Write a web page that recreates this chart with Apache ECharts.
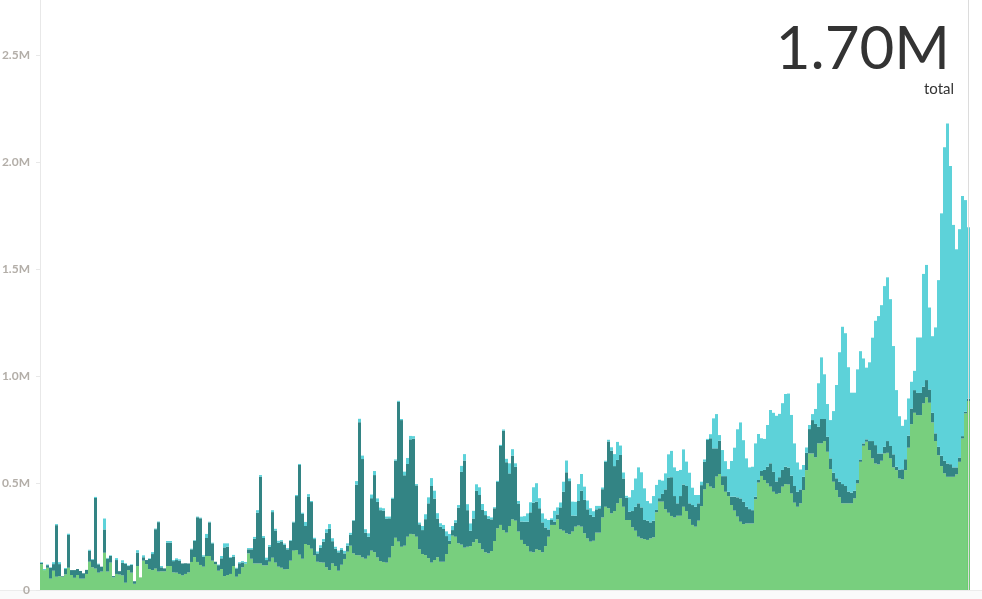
<!DOCTYPE html>
<html><head><meta charset="utf-8">
<script src="https://cdn.jsdelivr.net/npm/echarts@6/dist/echarts.min.js"></script>
<style>html,body{margin:0;padding:0;background:#fff}#c{width:982px;height:599px}</style>
</head><body><div id="c"></div>
<script>
// values in thousands
const green = [
121,93,104,53,90,62,65,62,73,104,70,57,70,53,53,75,132,106,100,81,
86,174,86,128,59,75,72,68,34,93,81,29,112,59,137,121,98,93,100,86,
87,87,112,112,82,81,75,68,75,82,131,154,131,117,109,159,159,137,121,90,
98,65,
70,75,112,62,75,106,121,171,146,124,124,124,115,115,132,151,128,109,104,96,
98,137,184,187,165,146,215,210,193,162,132,129,128,106,93,124,112,90,118,145,
179,207,171,163,162,152,146,160,184,177,152,135,131,128,151,205,244,226,202,207,
249,262,
260,249,190,168,163,149,128,140,153,132,132,168,215,254,249,218,212,198,202,205,
223,237,218,190,176,171,182,229,288,304,280,268,299,330,324,273,234,215,205,179,
176,190,187,176,205,249,304,304,330,283,277,265,260,273,296,301,296,265,241,226,
230,268,
268,339,389,382,358,369,405,428,389,327,327,293,277,249,241,238,234,241,246,363,
413,413,377,361,346,339,347,347,389,369,330,304,296,324,392,470,498,483,475,530,
542,490,459,439,397,371,343,319,308,311,311,311,424,502,533,514,498,483,459,449,
452,483,
495,493,451,408,389,405,467,560,638,638,620,685,685,696,646,565,506,467,433,405,
405,405,405,428,498,599,674,693,654,615,591,587,604,638,641,615,573,560,521,517,
560,665,775,828,817,817,872,900,875,783,696,630,579,545,529,529,529,540,599,708,
825,883
];
const teal = [
6,0,12,50,31,241,56,3,25,153,23,36,28,36,25,19,51,36,330,39,
23,109,61,31,6,65,16,59,89,19,36,12,62,0,16,19,47,75,184,231,
19,14,109,109,53,59,62,56,50,42,59,76,209,218,47,84,157,81,11,26,
50,134,
132,76,44,39,50,23,2,19,44,115,237,405,128,25,70,213,150,112,123,115,
92,93,132,252,419,210,84,226,218,76,39,69,98,162,193,104,81,86,69,26,
28,51,153,329,622,460,122,89,245,360,260,238,240,206,184,221,360,653,592,329,
340,442,
447,240,117,112,168,256,358,287,181,164,153,84,16,26,65,167,340,407,171,72,
111,226,226,184,174,162,148,153,217,369,464,329,246,298,252,131,86,104,114,184,
232,223,195,140,87,34,23,16,23,103,182,285,249,75,51,115,168,156,136,125,
112,109,
114,132,210,312,293,210,203,203,132,104,39,76,112,156,145,89,90,75,78,11,
16,36,93,165,181,100,58,92,104,117,75,93,93,81,98,129,203,226,187,132,
156,42,73,20,39,65,90,109,104,78,67,62,12,12,23,47,78,109,93,58,
75,78,
81,79,83,78,70,65,62,81,114,156,156,78,114,103,70,50,42,55,73,90,
81,55,50,36,16,11,11,11,42,81,86,51,34,31,55,58,61,16,42,47,
51,56,73,106,104,104,78,81,62,45,36,39,48,59,62,59,44,33,20,11,
8,11
];
const cyan = [
3,5,3,3,9,5,9,0,5,6,0,0,0,0,0,0,5,3,5,3,
0,51,3,3,0,9,0,12,3,3,3,0,12,0,9,0,3,9,3,3,
6,0,8,8,5,8,6,0,0,0,3,3,3,3,6,19,3,3,0,3,
11,19,
16,3,8,3,5,6,8,6,6,9,12,8,9,11,8,9,8,9,6,6,
6,3,3,5,5,5,19,12,5,6,9,11,12,16,22,14,9,8,9,12,
11,9,3,17,16,16,16,16,17,19,16,12,11,9,8,5,6,5,5,17,
28,16,
12,6,8,19,23,28,37,37,25,16,19,22,31,19,12,12,28,30,28,34,
36,31,36,28,19,12,9,5,5,5,6,16,47,30,16,12,23,26,39,47,
72,86,47,42,41,44,8,50,33,23,47,55,12,65,65,79,78,62,41,31,
26,16,
11,8,5,8,16,56,84,44,28,9,67,98,132,168,164,148,92,89,115,117,
86,62,75,108,123,134,151,122,164,114,143,81,55,39,16,11,5,19,140,160,
26,122,70,106,167,229,318,355,288,226,195,203,249,215,153,145,195,249,276,307,
296,312,
340,346,284,199,137,93,55,25,19,28,70,203,288,209,153,179,288,436,605,735,
714,581,467,458,517,506,397,335,368,483,581,642,693,751,765,686,506,358,249,203,
185,174,125,90,259,259,527,538,383,358,495,779,1133,1465,1589,1393,1133,1019,1067,1122,
989,801
];
const yTickValues = [0, 500000, 1000000, 1500000, 2000000, 2500000];
const totalText = '1.70M';
const totalCaption = 'total';

const categories = green.map((_, i) => 'P' + (i + 1));
const lastIdx = categories.length - 1;
function toData(arr, lastColor) {
  return arr.map((v, i) => i === lastIdx ? { value: v * 1000, itemStyle: { color: lastColor } } : v * 1000);
}

const chart = echarts.init(document.getElementById('c'), null, { renderer: 'canvas' });
chart.setOption({
  animation: false,
  backgroundColor: '#ffffff',
  grid: { left: 40, right: 12, top: 0, bottom: 9, containLabel: false, outerBoundsMode: 'none' },
  xAxis: {
    type: 'category', data: categories, boundaryGap: true,
    axisLine: { show: false }, axisTick: { show: false }, axisLabel: { show: false }, splitLine: { show: false }
  },
  yAxis: {
    type: 'value', min: 0, max: 2757000, interval: 500000,
    axisLine: { show: true, lineStyle: { color: '#e8e8e8', width: 1 } },
    axisTick: { show: true, length: 4, lineStyle: { color: '#e8e8e8' } },
    splitLine: { show: false },
    axisLabel: {
      showMaxLabel: false, margin: 10, color: '#b3aea8', fontSize: 12, fontFamily: 'Lato', fontWeight: 'bold',
      formatter: v => yTickValues.indexOf(v) < 0 ? '' : (v === 0 ? '0' : (v / 1e6).toFixed(1) + 'M')
    }
  },
  graphic: [
    { type: 'rect', left: 0, top: 591, z: 0, shape: { width: 982, height: 8 }, style: { fill: '#fafafa' } },
    { type: 'line', z: 0, shape: { x1: 0, y1: 590.5, x2: 982, y2: 590.5 }, style: { stroke: '#ececec', lineWidth: 1 } },
    { type: 'text', right: 32, top: 20, z: 10, style: { text: totalText, font: '60px Lato', fill: '#333333' } },
    { type: 'text', right: 28, top: 82, z: 10, style: { text: totalCaption, font: '15px Lato', fill: '#333333' } }
  ],
  series: [
    { name: 'green', type: 'bar', stack: 'a', barCategoryGap: '0%', barWidth: '100%', data: toData(green, '#6dcb6f'),
      itemStyle: { color: '#78cf7e' } },
    { name: 'teal', type: 'bar', stack: 'a', barWidth: '100%', data: toData(teal, '#2f8181'),
      itemStyle: { color: '#338484' } },
    { name: 'cyan', type: 'bar', stack: 'a', barWidth: '100%', data: toData(cyan, '#55cfd6'),
      itemStyle: { color: '#5dd2d9' },
      markLine: { silent: true, symbol: ['none', 'none'], label: { show: false },
        lineStyle: { color: '#dcdcdc', type: 'solid', width: 1 },
        data: [{ xAxis: categories[lastIdx] }] } }
  ]
});
</script></body></html>
